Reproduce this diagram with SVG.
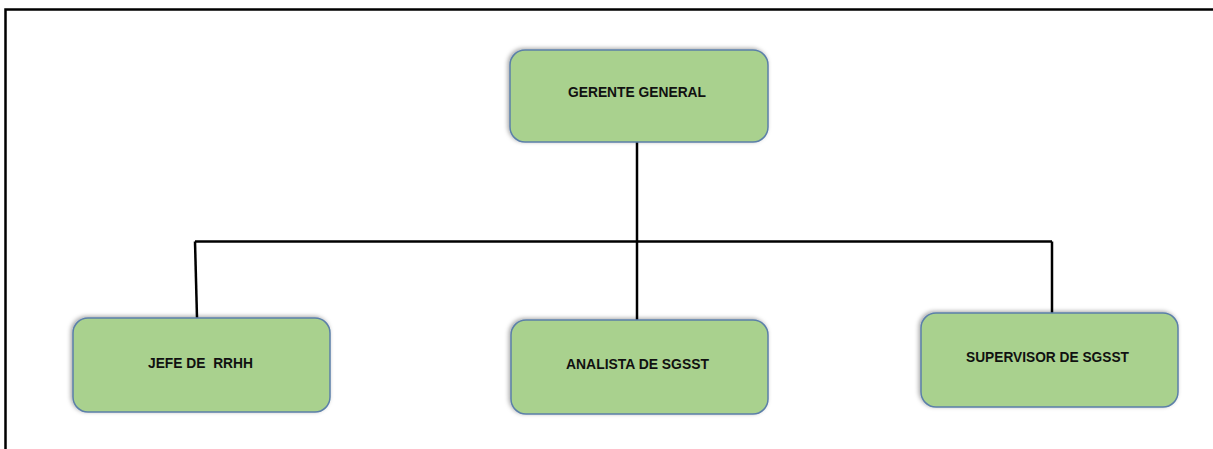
<svg xmlns="http://www.w3.org/2000/svg" width="1213" height="449" viewBox="0 0 1213 449">
<style>
.box{fill:#A9D18E;stroke:#5B7FA8;stroke-width:1.5;filter:url(#sh)}
.lbl{font-family:"Liberation Sans",Arial,sans-serif;font-weight:bold;font-size:15.5px;fill:#111;text-anchor:middle}
.ln{stroke:#000;stroke-width:2.5;fill:none}
</style>
<defs>
<filter id="sh" x="-10%" y="-20%" width="120%" height="140%">
<feDropShadow dx="-1.5" dy="-1" stdDeviation="2" flood-color="#000" flood-opacity="0.35"/>
</filter>
</defs>
<rect width="1213" height="449" fill="#fff"/>
<path class="ln" d="M5.5 449 V9.5 H1213"/>
<g id="connectors">
<path class="ln" d="M637 142 V320"/>
<path class="ln" d="M195 241.5 H1052"/>
<path class="ln" d="M195 241.5 L197 318"/>
<path class="ln" d="M1052 241.5 V313"/>
</g>
<g id="gerente">
<rect class="box" x="510" y="50" width="258" height="92" rx="15"/>
<text class="lbl" x="637" y="96.5" textLength="138" lengthAdjust="spacingAndGlyphs">GERENTE GENERAL</text>
</g>
<g id="jefe">
<rect class="box" x="73" y="318" width="257" height="94" rx="15"/>
<text class="lbl" x="200.5" y="367.5" textLength="105" lengthAdjust="spacingAndGlyphs" xml:space="preserve">JEFE DE  RRHH</text>
</g>
<g id="analista">
<rect class="box" x="511" y="320" width="257" height="94" rx="15"/>
<text class="lbl" x="637.5" y="368.5" textLength="143" lengthAdjust="spacingAndGlyphs">ANALISTA DE SGSST</text>
</g>
<g id="supervisor">
<rect class="box" x="921" y="313" width="257" height="94" rx="15"/>
<text class="lbl" x="1047.5" y="361.5" textLength="163" lengthAdjust="spacingAndGlyphs">SUPERVISOR DE SGSST</text>
</g>
</svg>
